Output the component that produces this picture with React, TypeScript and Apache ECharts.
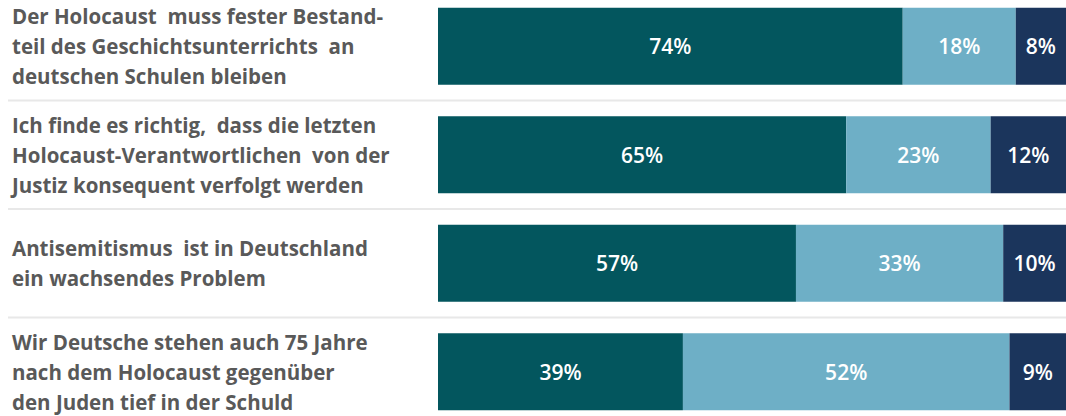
import React, { useEffect, useRef } from "react";
import * as echarts from "echarts";

const categories = [
  "Der Holocaust  muss fester Bestand-\nteil des Geschichtsunterrichts  an\ndeutschen Schulen bleiben",
  "Ich finde es richtig,  dass die letzten\nHolocaust-Verantwortlichen  von der\nJustiz konsequent verfolgt werden",
  "Antisemitismus  ist in Deutschland\nein wachsendes Problem",
  "Wir Deutsche stehen auch 75 Jahre\nnach dem Holocaust gegenüber\nden Juden tief in der Schuld",
];
const agree = [74, 65, 57, 39];
const disagree = [18, 23, 33, 52];
const unsure = [8, 12, 10, 9];
const seriesNames = ["Stimme zu", "Stimme nicht zu", "Weiß nicht"];
const colors = ["#03565E", "#6EAFC6", "#1B355C"];

export default function App() {
  const ref = useRef<HTMLDivElement>(null);
  useEffect(() => {
    if (!ref.current) return;
    const chart = echarts.init(ref.current, null, { renderer: "svg" });
    const gridLeft = 438;
    const labelStyle = {
      show: true,
      position: "inside",
      formatter: "{c}%",
      color: "#FFFFFF",
      fontFamily: "Open Sans",
      fontWeight: 600,
      fontSize: 21,
    };
    const mk = (name: string, data: number[], color: string) => ({
      name,
      type: "bar",
      stack: "total",
      data,
      barWidth: 77,
      itemStyle: { color },
      label: labelStyle,
    });
    chart.setOption({
      animation: false,
      grid: { left: gridLeft, right: 0, top: 0, bottom: 0, containLabel: false },
      xAxis: {
        type: "value",
        min: 0,
        max: 100,
        show: false,
      },
      yAxis: {
        type: "category",
        data: categories,
        inverse: true,
        axisLine: { show: false },
        axisTick: { show: false },
        splitLine: { show: false },
        axisLabel: {
          align: "left",
          margin: gridLeft - 12,
          color: "#595959",
          fontFamily: "Open Sans",
          fontWeight: "bold",
          fontSize: 20.5,
          lineHeight: 30,
        },
      },
      series: [
        mk(seriesNames[0], agree, colors[0]),
        mk(seriesNames[1], disagree, colors[1]),
        mk(seriesNames[2], unsure, colors[2]),
      ],
    });
    const lines: any[] = [];
    for (let i = 0; i < categories.length - 1; i++) {
      const a = chart.convertToPixel({ yAxisIndex: 0 }, i) as number;
      const b = chart.convertToPixel({ yAxisIndex: 0 }, i + 1) as number;
      const y = (a + b) / 2;
      lines.push({
        type: "line",
        shape: { x1: 8, y1: y, x2: 1066, y2: y },
        style: { stroke: "#E8E8E8", lineWidth: 2 },
        z: -1,
      });
    }
    chart.setOption({ graphic: lines });
    return () => chart.dispose();
  }, []);
  return (
    <div
      ref={ref}
      style={{ position: "absolute", left: 0, top: -8, width: 1066, height: 434 }}
    />
  );
}
